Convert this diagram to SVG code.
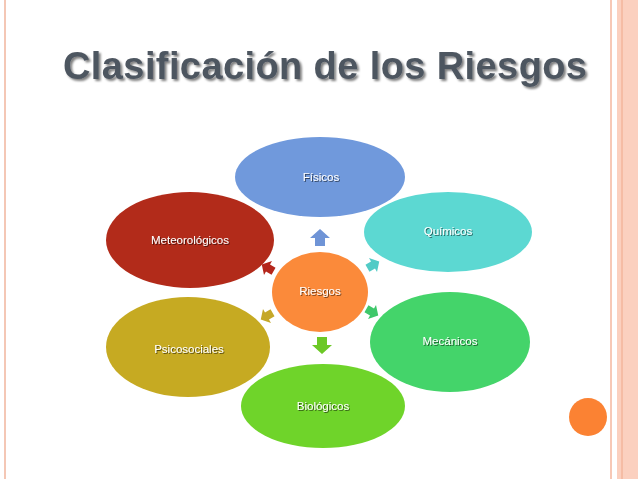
<svg xmlns="http://www.w3.org/2000/svg" width="638" height="479" viewBox="0 0 638 479">
<defs>
<style>
.t{font-family:"Liberation Sans",Arial,sans-serif;font-size:11.5px;fill:#fff;text-anchor:middle;dominant-baseline:middle;filter:url(#ts)}
</style>
<filter id="ts" x="-20%" y="-50%" width="140%" height="200%"><feDropShadow dx="1" dy="1" stdDeviation="0.6" flood-color="#000" flood-opacity="0.55"/></filter>
<filter id="tt" x="-5%" y="-30%" width="110%" height="160%"><feDropShadow dx="2" dy="2" stdDeviation="0.8" flood-color="#000" flood-opacity="0.5"/></filter>
<path id="arr" d="M-10,0 L0,-9 L10,0 L5,0 L5,8 L-5,8 L-5,0 Z"/>
</defs>
<rect width="638" height="479" fill="#fff"/>
<line x1="5" y1="0" x2="5" y2="479" stroke="#f4c7b5" stroke-width="2"/>
<line x1="611" y1="0" x2="611" y2="479" stroke="#f7c8b6" stroke-width="2"/>
<rect x="617" y="0" width="21" height="479" fill="#fbd0bf"/>
<line x1="622" y1="0" x2="622" y2="479" stroke="#f0a88a" stroke-width="1"/>
<circle cx="588" cy="417" r="19" fill="#fb8233"/>
<text x="325" y="79" font-family="'Liberation Sans',Arial,sans-serif" font-size="38" font-weight="bold" text-anchor="middle" fill="#4e5661" filter="url(#tt)" textLength="524">Clasificación de los Riesgos</text>
<g id="conectores">
<use href="#arr" transform="translate(320,238)" fill="#6f94d6"/>
<use href="#arr" transform="translate(373,265) rotate(60) scale(0.8)" fill="#52cbc6"/>
<use href="#arr" transform="translate(372,312) rotate(120) scale(0.8)" fill="#3ec76a"/>
<use href="#arr" transform="translate(322,345) rotate(180)" fill="#6cc826"/>
<use href="#arr" transform="translate(267,316) rotate(240) scale(0.8)" fill="#c5a82a"/>
<use href="#arr" transform="translate(268,268) rotate(300) scale(0.8)" fill="#b5261b"/>
</g>
<g id="fisicos"><ellipse cx="320" cy="177" rx="85" ry="40" fill="#7099dc"/><text class="t" x="321" y="178">Físicos</text></g>
<g id="quimicos"><ellipse cx="448" cy="232" rx="84" ry="40" fill="#5cd8d2"/><text class="t" x="448" y="232">Químicos</text></g>
<g id="mecanicos"><ellipse cx="450" cy="342" rx="80" ry="50" fill="#44d46a"/><text class="t" x="450" y="342">Mecánicos</text></g>
<g id="biologicos"><ellipse cx="323" cy="406" rx="82" ry="42" fill="#6fd42a"/><text class="t" x="323" y="407">Biológicos</text></g>
<g id="psicosociales"><ellipse cx="188" cy="347" rx="82" ry="50" fill="#c6aa22"/><text class="t" x="189" y="350">Psicosociales</text></g>
<g id="meteorologicos"><ellipse cx="190" cy="240" rx="84" ry="48" fill="#b22b1a"/><text class="t" x="190" y="241">Meteorológicos</text></g>
<g id="riesgos"><ellipse cx="320" cy="292" rx="48" ry="40" fill="#fb8a3a"/><text class="t" x="320" y="292">Riesgos</text></g>
</svg>
